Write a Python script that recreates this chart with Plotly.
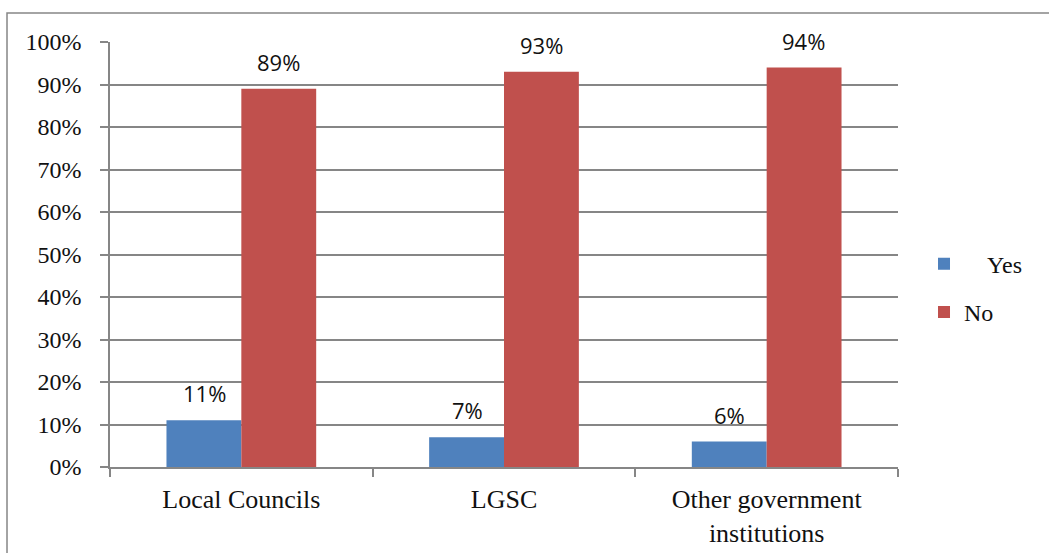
import plotly.graph_objects as go

categories = ["Local Councils", "LGSC", "Other government<br>institutions"]
yes_vals = [0.11, 0.07, 0.06]
no_vals = [0.89, 0.93, 0.94]
yes_labels = ["11%", "7%", "6%"]
no_labels = ["89%", "93%", "94%"]

BLUE = "#4F81BD"
RED = "#C0504D"
GRID = "#868686"
SERIF = "Liberation Serif, Times New Roman, serif"
LABEL_FONT = dict(family="Open Sans, Liberation Sans", size=22, color="#111")

fig = go.Figure()
fig.add_trace(go.Bar(name="    Yes", x=categories, y=yes_vals, marker_color=BLUE,
                     marker_line_width=0, legendgroup="yes"))
fig.add_trace(go.Bar(name="No", x=categories, y=no_vals, marker_color=RED,
                     marker_line_width=0, legendgroup="no"))

annotations = []
for cat, v, t in zip(categories, yes_vals, yes_labels):
    annotations.append(dict(x=cat, y=v, text=t, xshift=-37, yshift=10, yanchor="bottom",
                            showarrow=False, font=LABEL_FONT))
for cat, v, t in zip(categories, no_vals, no_labels):
    annotations.append(dict(x=cat, y=v, text=t, xshift=37, yshift=10, yanchor="bottom",
                            showarrow=False, font=LABEL_FONT))

fig.update_layout(
    width=1049, height=553,
    margin=dict(l=110, r=151, t=42, b=86, autoexpand=False),
    plot_bgcolor="white", paper_bgcolor="white",
    barmode="group", bargap=0.43, bargroupgap=0,
    font=dict(family=SERIF, size=24, color="#111"),
    legend=dict(x=1.033, y=0.421, xanchor="left", yanchor="middle",
                font=dict(family=SERIF, size=24), tracegroupgap=14,
                itemwidth=30),
    annotations=annotations,
    shapes=[dict(type="rect", xref="paper", yref="paper", x0=-0.1307, x1=2, y0=-2, y1=1.0682,
                 line=dict(color=GRID, width=1.5), fillcolor="rgba(0,0,0,0)", layer="below")],
)
fig.update_yaxes(range=[0, 1], dtick=0.1, tickformat=".0%", showgrid=True, gridcolor=GRID, gridwidth=1.5,
                 showline=True, linecolor=GRID, linewidth=1.5, ticks="outside", ticklen=8,
                 tickcolor=GRID, tickwidth=1.5, zeroline=False, ticklabelstandoff=14,
                 tickfont=dict(family=SERIF, size=24, color="#111"), automargin=False)
fig.update_xaxes(showline=True, linecolor=GRID, linewidth=1.5, ticks="outside", ticklen=8,
                 tickcolor=GRID, tickwidth=1.5, tickson="boundaries", showgrid=False,
                 tickfont=dict(family=SERIF, size=26, color="#111"), ticklabelstandoff=8,
                 automargin=False)

fig.write_html("out.html")
